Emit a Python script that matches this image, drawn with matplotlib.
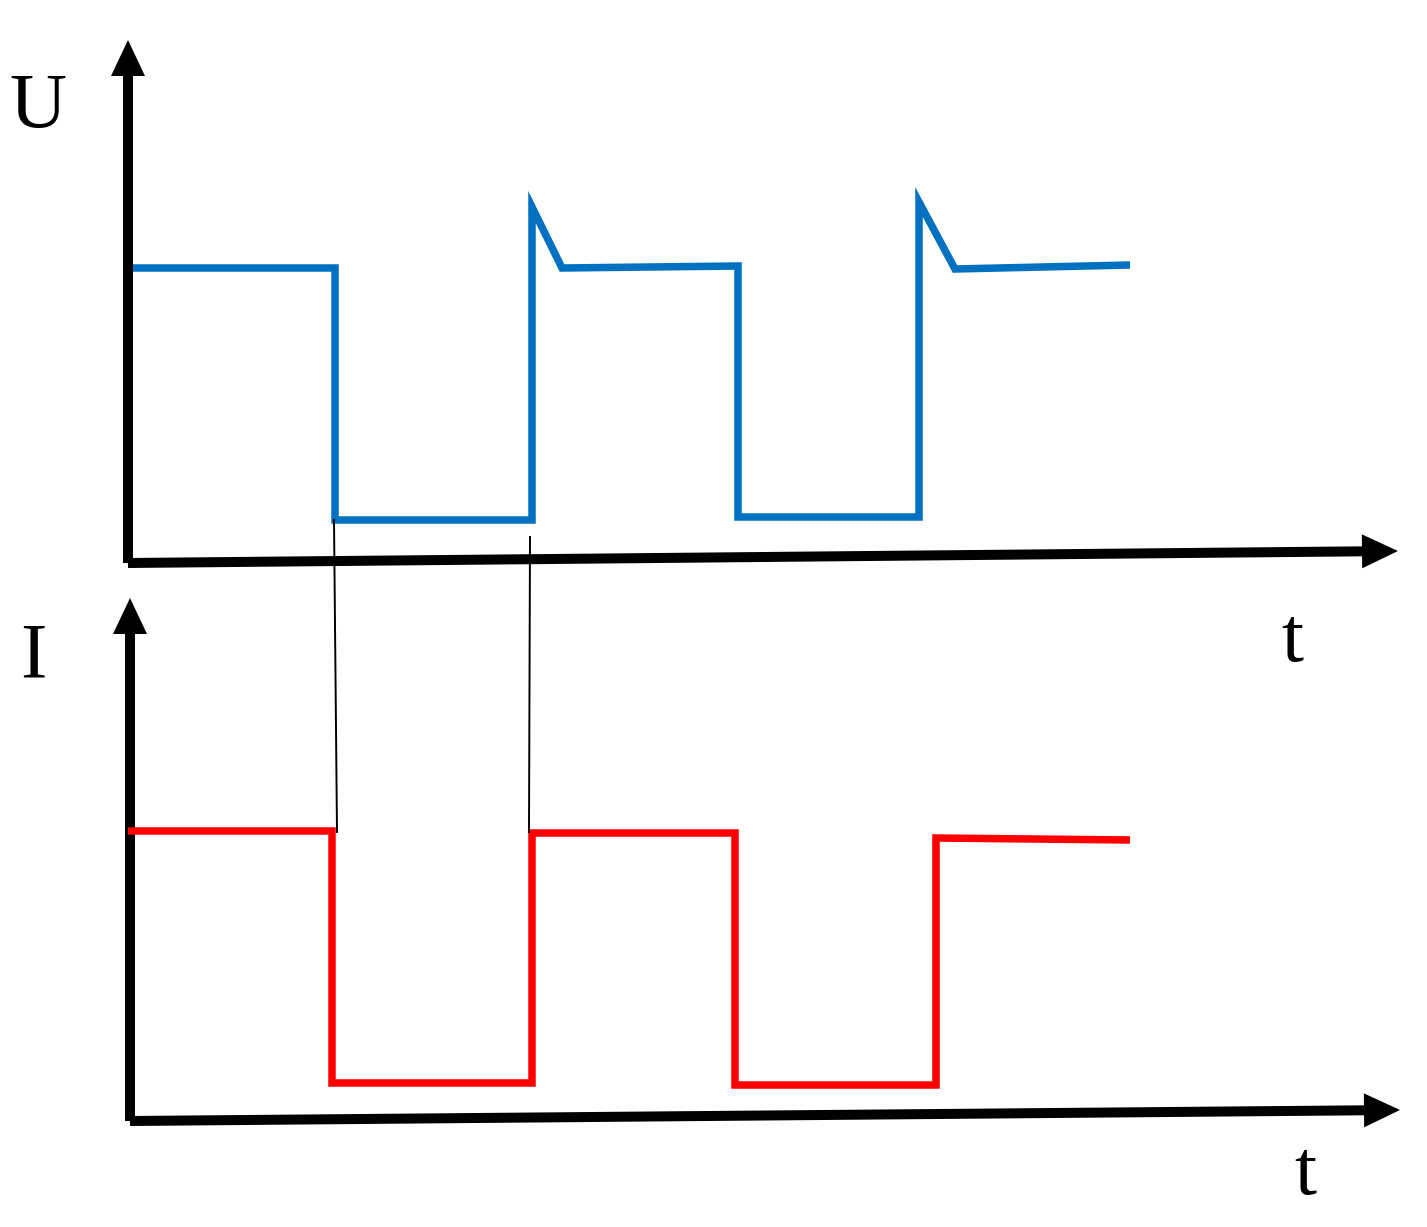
import matplotlib.pyplot as plt

# waveform points, in picture coordinates (x to the right, y downward)
u_x = [133, 335, 335, 532, 532, 562, 738, 738, 919, 919, 955, 1130]
u_y = [268, 268, 520, 520, 207, 268, 266, 517, 517, 202, 269, 265]

i_x = [128, 332, 332, 532, 532, 735, 735, 936, 936, 1130]
i_y = [831, 831, 1083, 1083, 833, 833, 1085, 1085, 838, 840]

# thin guide lines linking the U edges to the I edges
guide_x = [[334, 337], [530, 529]]
guide_y = [[520, 832], [537, 832]]

# axes: (origin, end of horizontal arrow, end of vertical arrow)
axes_defs = [
    ((128, 563), (1398, 551), (128, 40)),
    ((130, 1121), (1400, 1110), (130, 598)),
]

labels = [("U", 38, 108), ("I", 33, 658), ("t", 1292, 642), ("t", 1305, 1175)]

fig = plt.figure(figsize=(14.27, 12.27), dpi=100)
ax = fig.add_axes([0, 0, 1, 1])
ax.set_xlim(0, 1427)
ax.set_ylim(1227, 0)
ax.set_aspect("equal")
ax.axis("off")

for (x0, y0), (xh, yh), (xv, yv) in axes_defs:
    for x1, y1 in [(xh, yh), (xv, yv)]:
        ax.arrow(x0, y0, x1 - x0, y1 - y0, width=10, head_width=34, head_length=36,
                 length_includes_head=True, color="black", lw=0)

ax.plot(u_x, u_y, color="#0070C0", lw=5.4, solid_joinstyle="miter", solid_capstyle="butt")
ax.plot(i_x, i_y, color="#FF0000", lw=5.4, solid_joinstyle="miter", solid_capstyle="butt")
for gx, gy in zip(guide_x, guide_y):
    ax.plot(gx, gy, color="black", lw=1.4)

for text, x, y in labels:
    ax.text(x, y, text, fontsize=57, family="Liberation Serif", ha="center", va="center")

fig.savefig("out.png", dpi=100)
